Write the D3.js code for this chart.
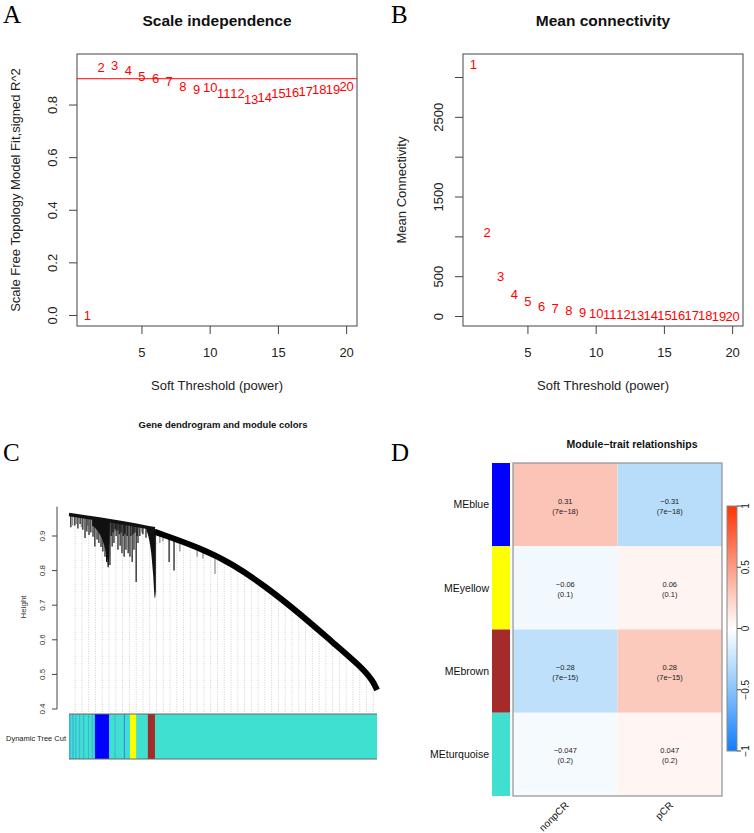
<!DOCTYPE html>
<html>
<head>
<meta charset="utf-8">
<script src="https://cdn.jsdelivr.net/npm/d3@7"></script>
<style>
body { margin: 0; background: #fff; }
text { font-family: "Liberation Sans", Arial, sans-serif; }
.letter { font-family: "Liberation Serif", "Times New Roman", serif; }
</style>
</head>
<body>
<div id="chart"></div>
<script>
// ---- data: soft threshold panels (A, B)
var powers = [1,2,3,4,5,6,7,8,9,10,11,12,13,14,15,16,17,18,19,20];
var fitR2  = [0.0,0.945,0.952,0.933,0.910,0.900,0.891,0.872,0.861,0.869,0.846,0.846,0.823,0.830,0.846,0.850,0.853,0.861,0.861,0.872];
var meanK  = [3169,1060,505,278,189,126,101,76,50,38,30,25,20,17,14,12,10,9,8,7];
var powerTicks = [5,10,15,20];
var r2Ticks = [0,0.2,0.4,0.6,0.8];
var kTicks = [0,500,1000,1500,2000,2500,3000];
var kTickLabels = [0,500,1500,2500];
var r2Cut = 0.9;

// ---- data: dendrogram (C), leaf position 0..100, merge height
var treeLeft  = [[0,0.962],[13,0.945],[27.9,0.921]];
var treeRight = [[27.9,0.912],[42.5,0.866],[53,0.820],[64,0.753],[75,0.675],[85.7,0.592],[94.5,0.525],[98.7,0.482],[100,0.455]];
var blackTips = [[0.6,0.925],[1.9,0.93],[2.9,0.922],[3.6,0.935],[4.5,0.918],[5.2,0.894],[5.8,0.913],[6.5,0.903],[7.1,0.91],[7.8,0.898],
  [8.4,0.87],[9.1,0.89],[9.7,0.88],[10.4,0.868],[11,0.855],[11.7,0.84],[12.2,0.825],[12.7,0.81],
  [13.3,0.816],[13.7,0.9],[14,0.87],[14.3,0.91],[14.6,0.88],[15,0.92],[15.3,0.9],[15.6,0.915],[15.9,0.86],[16.3,0.905],[16.6,0.872],
  [16.9,0.91],[17.2,0.85],[17.6,0.9],[17.9,0.84],[18.2,0.905],[18.5,0.86],[18.9,0.9],[19.2,0.85],
  [19.8,0.84],[20.1,0.9],[20.5,0.825],[20.8,0.905],[21.1,0.86],[21.4,0.91],[21.8,0.767],[22.1,0.9],[22.4,0.88],[23,0.9],[24,0.905],[25,0.895],
  [32.5,0.825],[34.1,0.80]];
var greyTips = [[1.2,0.93],[2.4,0.935],[4,0.925],[6.1,0.93],[15,0.915],[16.2,0.92],[18,0.91],[23.6,0.91],
  [29.5,0.88],[30.5,0.885],[36,0.855],[41.6,0.84],[43.5,0.835],[47.4,0.79]];
var massA = [[7.5,0.93],[9,0.918],[10,0.905],[11,0.885],[11.8,0.86],[12.4,0.835],[12.8,0.812],[13.1,0.85],[13.3,0.94]];
var massC = [[25.2,0.915],[26,0.89],[26.7,0.85],[27.3,0.79],[27.9,0.72],[28.2,0.74]];
var heightTicks = [0.4,0.5,0.6,0.7,0.8,0.9];
var cutBase = "#40E0D0";
var cutSegments = [[0,0.5,"#3bb0d8"],[1.1,1.5,"#3bb0d8"],[2.1,2.4,"#45a8d0"],[3.3,3.6,"#3bb0d8"],[4.6,4.9,"#45a8d0"],
  [6.2,6.5,"#3bb0d8"],[7.4,7.7,"#45a8d0"],[8.4,13,"#0000FF"],[14.8,15.1,"#3bb0d8"],[17.8,18.2,"#3c8ce6"],
  [19.8,21.8,"#FFFF00"],[25.6,27.9,"#A52A2A"]];

// ---- data: module-trait heatmap (D)
var modules = ["MEblue","MEyellow","MEbrown","MEturquoise"];
var moduleColors = ["#0000FF","#FFFF00","#A52A2A","#40E0D0"];
var traits = ["nonpCR","pCR"];
var corNonpCR = [0.31,-0.06,-0.28,-0.047];
var corPCR = [-0.31,0.06,0.28,0.047];
var pNonpCR = ["7e-18","0.1","7e-15","0.2"];
var pPCR = ["7e-18","0.1","7e-15","0.2"];
var legendTicks = [-1,-0.5,0,0.5,1];

var svg = d3.select("#chart").append("svg")
  .attr("width", 754).attr("height", 833);
svg.append("rect").attr("width", 754).attr("height", 833).attr("fill", "#fff");

function minus(s) { return String(s).replace(/-/g, "\u2212"); }

// panel letters
[["A",3,23],["B",391,23],["C",3,461],["D",391,461]].forEach(function(l) {
  svg.append("text").attr("class", "letter")
    .attr("x", l[1]).attr("y", l[2])
    .attr("font-size", 25).text(l[0]);
});

// ---------- A and B: scatter of power labels
function powerPlot(left, values, yDomain, yTicks, yLabels, yTickFmt, title, yTitle, extra) {
  var x = d3.scaleLinear().domain([0.24, 20.76]).range([left, left + 280]);
  var y = d3.scaleLinear().domain(yDomain).range([326, 54]);
  var g = svg.append("g");

  g.append("rect")
    .attr("x", left).attr("y", 54).attr("width", 280).attr("height", 272)
    .attr("fill", "none").attr("stroke", "#444").attr("stroke-width", 1);

  if (extra) extra(g, x, y);

  powerTicks.forEach(function(t) {
    g.append("line").attr("x1", x(t)).attr("x2", x(t)).attr("y1", 326).attr("y2", 334)
      .attr("stroke", "#444");
    g.append("text").attr("x", x(t)).attr("y", 357).attr("text-anchor", "middle")
      .attr("font-size", 13).attr("fill", "#222").text(t);
  });
  yTicks.forEach(function(t) {
    g.append("line").attr("x1", left).attr("x2", left - 8).attr("y1", y(t)).attr("y2", y(t))
      .attr("stroke", "#444");
  });
  yLabels.forEach(function(t) {
    g.append("text")
      .attr("transform", "translate(" + (left - 20) + "," + y(t) + ") rotate(-90)")
      .attr("text-anchor", "middle").attr("font-size", 13).attr("fill", "#222")
      .text(yTickFmt(t));
  });

  g.selectAll(".pt").data(powers).enter().append("text")
    .attr("x", function(d) { return x(d); })
    .attr("y", function(d, i) { return y(values[i]); })
    .attr("dy", "0.36em")
    .attr("text-anchor", "middle").attr("font-size", 13).attr("fill", "#FF0000")
    .text(function(d) { return d; });

  g.append("text").attr("x", left + 140).attr("y", 26).attr("text-anchor", "middle")
    .attr("font-size", 15.5).attr("font-weight", "bold").attr("fill", "#111").text(title);
  g.append("text").attr("x", left + 140).attr("y", 390).attr("text-anchor", "middle")
    .attr("font-size", 13).attr("fill", "#222").text("Soft Threshold (power)");
  g.append("text")
    .attr("transform", "translate(" + (left - 57) + ",190) rotate(-90)")
    .attr("text-anchor", "middle").attr("font-size", 13).attr("fill", "#222").text(yTitle);
}

powerPlot(77, fitR2, [-0.04, 0.994], r2Ticks, r2Ticks, d3.format(".1f"),
  "Scale independence", "Scale Free Topology Model Fit,signed R^2",
  function(g, x, y) {
    g.append("line").attr("x1", x.range()[0]).attr("x2", x.range()[1])
      .attr("y1", y(r2Cut)).attr("y2", y(r2Cut))
      .attr("stroke", "#FF0000").attr("stroke-width", 1);
  });

powerPlot(463, meanK, [-119, 3295], kTicks, kTickLabels, function(d) { return d; },
  "Mean connectivity", "Mean Connectivity");

// ---------- C: dendrogram and module colours
var xC = d3.scaleLinear().domain([0, 100]).range([69, 377]);
var yC = d3.scaleLinear().domain([0.4, 1]).range([709, 501.4]);
var gC = svg.append("g");
var treeAll = treeLeft.concat(treeRight.slice(1));
var backboneAt = d3.scaleLinear()
  .domain(treeAll.map(function(d) { return d[0]; }))
  .range(treeAll.map(function(d) { return d[1]; }));

gC.append("text").attr("x", 223).attr("y", 428).attr("text-anchor", "middle")
  .attr("font-size", 9.5).attr("font-weight", "bold").attr("fill", "#111")
  .text("Gene dendrogram and module colors");

// leaf guide lines
d3.range(2, 100, 2.2).forEach(function(p) {
  gC.append("line").attr("x1", xC(p)).attr("x2", xC(p))
    .attr("y1", 712).attr("y2", yC(backboneAt(p)))
    .attr("stroke", "#c4c4c4").attr("stroke-width", 0.8).attr("stroke-dasharray", "1,1.4");
});

gC.selectAll(".gtip").data(greyTips).enter().append("line")
  .attr("x1", function(d) { return xC(d[0]); }).attr("x2", function(d) { return xC(d[0]); })
  .attr("y1", function(d) { return yC(backboneAt(d[0])); })
  .attr("y2", function(d) { return yC(d[1]); })
  .attr("stroke", "#8a8a8a").attr("stroke-width", 1.2);

var massArea = d3.area().curve(d3.curveMonotoneX)
  .x(function(d) { return xC(d[0]); })
  .y0(function(d) { return yC(d[1]); })
  .y1(function(d) { return yC(backboneAt(d[0])); });
[massA, massC].forEach(function(m) {
  gC.append("path").attr("d", massArea(m)).attr("fill", "#111");
});

gC.selectAll(".btip").data(blackTips).enter().append("line")
  .attr("x1", function(d) { return xC(d[0]); }).attr("x2", function(d) { return xC(d[0]); })
  .attr("y1", function(d) { return yC(backboneAt(d[0])); })
  .attr("y2", function(d) { return yC(d[1]); })
  .attr("stroke", "#111").attr("stroke-width", 1.2);

var treeLine = d3.line().curve(d3.curveBasis)
  .x(function(d) { return xC(d[0]); }).y(function(d) { return yC(d[1]); });
gC.append("path").attr("d", treeLine(treeLeft)).attr("fill", "none")
  .attr("stroke", "#111").attr("stroke-width", 3.5);
gC.append("path").attr("d", treeLine(treeRight)).attr("fill", "none")
  .attr("stroke", "#000").attr("stroke-width", 6);

// height axis
gC.append("line").attr("x1", 57).attr("x2", 57).attr("y1", yC(0.4)).attr("y2", yC(0.985))
  .attr("stroke", "#444");
heightTicks.forEach(function(t) {
  gC.append("line").attr("x1", 57).attr("x2", 52).attr("y1", yC(t)).attr("y2", yC(t)).attr("stroke", "#444");
  gC.append("text").attr("transform", "translate(45," + yC(t) + ") rotate(-90)")
    .attr("text-anchor", "middle").attr("font-size", 8).attr("fill", "#333").text(t.toFixed(1));
});
gC.append("text").attr("transform", "translate(26,607) rotate(-90)")
  .attr("text-anchor", "middle").attr("font-size", 8).attr("fill", "#333").text("Height");

// dynamic tree cut colour bar
gC.append("rect").attr("x", xC(0)).attr("y", 714).attr("width", xC(100) - xC(0)).attr("height", 45)
  .attr("fill", cutBase);
gC.selectAll(".seg").data(cutSegments).enter().append("rect")
  .attr("x", function(d) { return xC(d[0]); }).attr("y", 714)
  .attr("width", function(d) { return xC(d[1]) - xC(d[0]); }).attr("height", 45)
  .attr("fill", function(d) { return d[2]; });
[714, 759].forEach(function(yy) {
  gC.append("line").attr("x1", xC(0)).attr("x2", xC(100)).attr("y1", yy).attr("y2", yy)
    .attr("stroke", "#666").attr("stroke-width", 1);
});
gC.append("text").attr("x", 66).attr("y", 738).attr("dy", "0.35em").attr("text-anchor", "end")
  .attr("font-size", 7.5).attr("fill", "#222").text("Dynamic Tree Cut");

// ---------- D: module-trait relationships
var xD = d3.scaleBand().domain(traits).range([513, 722]);
var yD = d3.scaleBand().domain(modules).range([463, 796]);
var colD = d3.scaleLinear().domain([-1, -0.31, 0, 0.31, 1])
  .range(["#0F7DFF", "#B7DDFB", "#FFFFFF", "#FCC4B6", "#FF3300"]);
var gD = svg.append("g");

gD.append("text").attr("x", 632).attr("y", 448).attr("text-anchor", "middle")
  .attr("font-size", 10.5).attr("font-weight", "bold").attr("fill", "#111")
  .text("Module\u2212trait relationships");

var cells = [];
modules.forEach(function(m, i) {
  cells.push({ m: m, t: traits[0], r: corNonpCR[i], p: pNonpCR[i] });
  cells.push({ m: m, t: traits[1], r: corPCR[i], p: pPCR[i] });
});
gD.selectAll(".cell").data(cells).enter().append("rect")
  .attr("x", function(d) { return xD(d.t); }).attr("y", function(d) { return yD(d.m); })
  .attr("width", xD.bandwidth()).attr("height", yD.bandwidth())
  .attr("fill", function(d) { return colD(d.r); });
gD.selectAll(".ct1").data(cells).enter().append("text")
  .attr("x", function(d) { return xD(d.t) + xD.bandwidth() / 2; })
  .attr("y", function(d) { return yD(d.m) + yD.bandwidth() / 2 - 1; })
  .attr("text-anchor", "middle").attr("font-size", 7.5).attr("fill", "#222")
  .text(function(d) { return minus(d.r); });
gD.selectAll(".ct2").data(cells).enter().append("text")
  .attr("x", function(d) { return xD(d.t) + xD.bandwidth() / 2; })
  .attr("y", function(d) { return yD(d.m) + yD.bandwidth() / 2 + 9; })
  .attr("text-anchor", "middle").attr("font-size", 7.5).attr("fill", "#222")
  .text(function(d) { return "(" + minus(d.p) + ")"; });
gD.append("rect").attr("x", 513).attr("y", 463).attr("width", 209).attr("height", 333)
  .attr("fill", "none").attr("stroke", "#999").attr("stroke-width", 1.3);

// module colour strip and labels
gD.selectAll(".strip").data(modules).enter().append("rect")
  .attr("x", 492).attr("y", function(d) { return yD(d); })
  .attr("width", 18).attr("height", yD.bandwidth())
  .attr("fill", function(d, i) { return moduleColors[i]; });
gD.selectAll(".rl").data(modules).enter().append("text")
  .attr("x", 489).attr("y", function(d) { return yD(d) + yD.bandwidth() / 2; })
  .attr("dy", "0.35em").attr("text-anchor", "end").attr("font-size", 10.5).attr("fill", "#111")
  .text(function(d) { return d; });
gD.selectAll(".cl").data(traits).enter().append("text")
  .attr("transform", function(d) { return "translate(" + (xD(d) + xD.bandwidth() / 2 + 4) + ",806) rotate(-45)"; })
  .attr("text-anchor", "end").attr("font-size", 10).attr("fill", "#111")
  .text(function(d) { return d; });

// colour legend
var yL = d3.scaleLinear().domain([-1, 1]).range([751, 506]);
var grad = svg.append("defs").append("linearGradient").attr("id", "cbar")
  .attr("x1", 0).attr("y1", 1).attr("x2", 0).attr("y2", 0);
d3.range(-1, 1.001, 0.1).forEach(function(v) {
  grad.append("stop").attr("offset", (v + 1) / 2).attr("stop-color", colD(v));
});
gD.append("rect").attr("x", 727).attr("y", 506).attr("width", 10).attr("height", 245)
  .attr("fill", "url(#cbar)").attr("stroke", "#888").attr("stroke-width", 1);
legendTicks.forEach(function(t) {
  gD.append("line").attr("x1", 737).attr("x2", 741).attr("y1", yL(t)).attr("y2", yL(t)).attr("stroke", "#444");
  gD.append("text").attr("transform", "translate(749," + yL(t) + ") rotate(-90)")
    .attr("text-anchor", "middle").attr("font-size", 10).attr("fill", "#222").text(minus(t));
});
</script>
</body>
</html>
